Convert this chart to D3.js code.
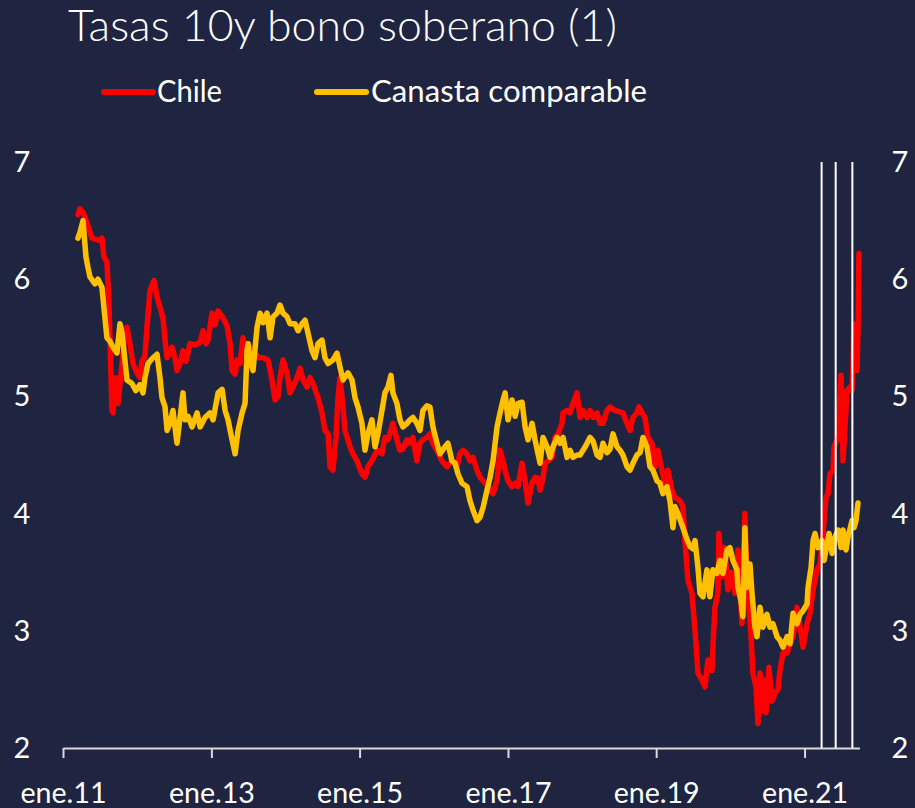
<!DOCTYPE html>
<html>
<head>
<meta charset="utf-8">
<script src="https://cdn.jsdelivr.net/npm/d3@7"></script>
<style>
  html, body { margin: 0; padding: 0; background: #1f2540; }
  svg { display: block; }
  text { font-family: Lato, "Open Sans", "Noto Sans", sans-serif; fill: #ffffff; }
</style>
</head>
<body>
<svg id="chart" width="915" height="808"></svg>
<script>
// 10-year sovereign bond yields (%), dates as decimal years
const chileDates = [
  2011.202, 2011.229, 2011.270, 2011.324, 2011.391, 2011.499, 2011.526, 2011.553, 2011.593, 2011.620,
  2011.634, 2011.647, 2011.661, 2011.674, 2011.715, 2011.742, 2011.769, 2011.823, 2011.863, 2011.904,
  2011.944, 2011.998, 2012.038, 2012.065, 2012.106, 2012.133, 2012.173, 2012.227, 2012.268, 2012.308,
  2012.349, 2012.376, 2012.403, 2012.470, 2012.510, 2012.537, 2012.578, 2012.618, 2012.659, 2012.713,
  2012.780, 2012.848, 2012.888, 2012.929, 2012.955, 2013.009, 2013.050, 2013.090, 2013.158, 2013.212,
  2013.252, 2013.279, 2013.320, 2013.347, 2013.387, 2013.427, 2013.454, 2013.495, 2013.535, 2013.589,
  2013.643, 2013.697, 2013.765, 2013.819, 2013.859, 2013.900, 2013.926, 2013.967, 2014.021, 2014.061,
  2014.102, 2014.156, 2014.196, 2014.237, 2014.291, 2014.331, 2014.372, 2014.439, 2014.493, 2014.533,
  2014.574, 2014.601, 2014.641, 2014.682, 2014.709, 2014.736, 2014.776, 2014.803, 2014.871, 2014.911,
  2014.965, 2015.032, 2015.073, 2015.113, 2015.167, 2015.235, 2015.302, 2015.342, 2015.383, 2015.450,
  2015.504, 2015.545, 2015.585, 2015.639, 2015.680, 2015.720, 2015.774, 2015.815, 2015.855, 2015.909,
  2015.949, 2015.990, 2016.044, 2016.111, 2016.179, 2016.246, 2016.313, 2016.354, 2016.394, 2016.448,
  2016.489, 2016.529, 2016.583, 2016.624, 2016.664, 2016.732, 2016.799, 2016.853, 2016.893, 2016.934,
  2016.961, 2017.001, 2017.055, 2017.096, 2017.136, 2017.190, 2017.231, 2017.271, 2017.325, 2017.365,
  2017.406, 2017.433, 2017.473, 2017.500, 2017.541, 2017.595, 2017.635, 2017.676, 2017.730, 2017.743,
  2017.797, 2017.837, 2017.878, 2017.932, 2017.972, 2018.013, 2018.067, 2018.107, 2018.148, 2018.202,
  2018.242, 2018.282, 2018.336, 2018.377, 2018.444, 2018.498, 2018.552, 2018.606, 2018.647, 2018.687,
  2018.741, 2018.768, 2018.808, 2018.849, 2018.889, 2018.943, 2018.984, 2019.024, 2019.078, 2019.119,
  2019.159, 2019.213, 2019.253, 2019.321, 2019.361, 2019.388, 2019.429, 2019.483, 2019.524, 2019.564,
  2019.618, 2019.658, 2019.699, 2019.753, 2019.766, 2019.793, 2019.833, 2019.847, 2019.887, 2019.928,
  2019.968, 2020.022, 2020.063, 2020.103, 2020.130, 2020.157, 2020.170, 2020.197, 2020.224, 2020.238,
  2020.278, 2020.305, 2020.346, 2020.373, 2020.400, 2020.427, 2020.454, 2020.481, 2020.521, 2020.562,
  2020.602, 2020.642, 2020.669, 2020.710, 2020.764, 2020.804, 2020.845, 2020.899, 2020.939, 2020.980,
  2021.034, 2021.074, 2021.115, 2021.168, 2021.209, 2021.249, 2021.290, 2021.317, 2021.344, 2021.384,
  2021.398, 2021.438, 2021.465, 2021.492, 2021.506, 2021.519, 2021.546, 2021.573, 2021.613, 2021.640,
  2021.654, 2021.667, 2021.694, 2021.708, 2021.721, 2021.735
];
const chileRates = [
  6.55, 6.60, 6.57, 6.48, 6.35, 6.33, 6.35, 6.19, 6.15, 5.80,
  5.50, 5.20, 4.88, 4.86, 5.16, 4.94, 5.10, 5.45, 5.59, 5.45,
  5.28, 5.20, 5.16, 5.30, 5.34, 5.59, 5.90, 5.99, 5.85, 5.76,
  5.67, 5.48, 5.33, 5.42, 5.33, 5.22, 5.28, 5.39, 5.30, 5.45,
  5.44, 5.46, 5.56, 5.45, 5.48, 5.71, 5.61, 5.73, 5.67, 5.60,
  5.45, 5.22, 5.19, 5.31, 5.28, 5.50, 5.38, 5.45, 5.40, 5.37,
  5.33, 5.33, 5.31, 5.14, 4.97, 5.00, 5.16, 5.31, 5.20, 5.03,
  5.08, 5.16, 5.24, 5.14, 5.08, 5.16, 5.11, 4.99, 4.86, 4.71,
  4.68, 4.40, 4.37, 4.65, 4.99, 5.16, 4.91, 4.71, 4.57, 4.51,
  4.45, 4.34, 4.31, 4.40, 4.45, 4.54, 4.51, 4.65, 4.63, 4.77,
  4.63, 4.54, 4.55, 4.63, 4.60, 4.65, 4.45, 4.60, 4.63, 4.65,
  4.68, 4.60, 4.54, 4.45, 4.40, 4.45, 4.40, 4.51, 4.54, 4.51,
  4.45, 4.48, 4.37, 4.31, 4.28, 4.23, 4.17, 4.28, 4.54, 4.45,
  4.37, 4.28, 4.23, 4.26, 4.23, 4.43, 4.28, 4.09, 4.26, 4.31,
  4.30, 4.20, 4.30, 4.43, 4.45, 4.48, 4.65, 4.68, 4.77, 4.86,
  4.88, 4.86, 4.94, 5.03, 4.82, 4.88, 4.82, 4.88, 4.82, 4.86,
  4.77, 4.77, 4.88, 4.91, 4.88, 4.87, 4.86, 4.77, 4.71, 4.82,
  4.86, 4.91, 4.86, 4.82, 4.65, 4.60, 4.40, 4.54, 4.37, 4.26,
  4.37, 4.20, 4.14, 4.11, 4.06, 3.77, 3.43, 3.32, 3.01, 2.64,
  2.58, 2.52, 2.75, 2.66, 2.86, 3.20, 3.32, 3.83, 3.46, 3.71,
  3.35, 3.50, 3.32, 3.69, 3.35, 3.06, 3.43, 4.00, 3.43, 3.29,
  2.98, 2.64, 2.52, 2.21, 2.64, 2.32, 2.58, 2.30, 2.69, 2.40,
  2.47, 2.50, 2.66, 2.81, 2.81, 2.89, 2.95, 3.20, 3.03, 2.86,
  3.06, 3.15, 3.35, 3.52, 3.57, 3.83, 4.14, 4.17, 4.34, 4.37,
  4.57, 4.63, 4.86, 5.18, 4.91, 4.45, 4.74, 5.05, 5.08, 5.05,
  5.28, 5.62, 5.50, 5.22, 5.57, 6.22
];

const canastaDates = [
  2011.202, 2011.229, 2011.270, 2011.310, 2011.337, 2011.364, 2011.432, 2011.472, 2011.526, 2011.566,
  2011.593, 2011.634, 2011.674, 2011.728, 2011.769, 2011.796, 2011.836, 2011.863, 2011.931, 2011.984,
  2012.038, 2012.079, 2012.106, 2012.146, 2012.214, 2012.268, 2012.308, 2012.335, 2012.376, 2012.403,
  2012.443, 2012.483, 2012.537, 2012.578, 2012.618, 2012.645, 2012.686, 2012.740, 2012.807, 2012.848,
  2012.915, 2012.982, 2013.023, 2013.090, 2013.144, 2013.185, 2013.225, 2013.279, 2013.320, 2013.360,
  2013.414, 2013.454, 2013.481, 2013.495, 2013.522, 2013.562, 2013.616, 2013.657, 2013.697, 2013.751,
  2013.792, 2013.832, 2013.886, 2013.926, 2013.967, 2014.021, 2014.061, 2014.129, 2014.169, 2014.223,
  2014.264, 2014.304, 2014.358, 2014.398, 2014.439, 2014.493, 2014.533, 2014.574, 2014.641, 2014.695,
  2014.736, 2014.776, 2014.844, 2014.898, 2014.938, 2014.978, 2015.032, 2015.073, 2015.113, 2015.167,
  2015.208, 2015.248, 2015.302, 2015.342, 2015.383, 2015.423, 2015.450, 2015.504, 2015.545, 2015.585,
  2015.639, 2015.680, 2015.720, 2015.774, 2015.815, 2015.855, 2015.909, 2015.949, 2015.990, 2016.044,
  2016.084, 2016.152, 2016.192, 2016.246, 2016.287, 2016.327, 2016.381, 2016.448, 2016.489, 2016.529,
  2016.583, 2016.624, 2016.664, 2016.718, 2016.759, 2016.799, 2016.853, 2016.893, 2016.934, 2016.961,
  2017.001, 2017.055, 2017.096, 2017.136, 2017.190, 2017.231, 2017.271, 2017.325, 2017.365, 2017.406,
  2017.433, 2017.473, 2017.527, 2017.568, 2017.608, 2017.662, 2017.703, 2017.743, 2017.797, 2017.837,
  2017.878, 2017.932, 2017.972, 2018.013, 2018.067, 2018.107, 2018.148, 2018.202, 2018.242, 2018.282,
  2018.336, 2018.377, 2018.417, 2018.471, 2018.512, 2018.552, 2018.606, 2018.647, 2018.687, 2018.741,
  2018.782, 2018.822, 2018.876, 2018.916, 2018.957, 2019.011, 2019.051, 2019.092, 2019.146, 2019.186,
  2019.227, 2019.253, 2019.294, 2019.361, 2019.415, 2019.456, 2019.496, 2019.524, 2019.564, 2019.591,
  2019.631, 2019.685, 2019.725, 2019.766, 2019.820, 2019.860, 2019.901, 2019.955, 2019.995, 2020.036,
  2020.090, 2020.103, 2020.143, 2020.170, 2020.197, 2020.224, 2020.265, 2020.292, 2020.332, 2020.359,
  2020.400, 2020.440, 2020.494, 2020.535, 2020.575, 2020.629, 2020.669, 2020.710, 2020.764, 2020.804,
  2020.845, 2020.899, 2020.939, 2020.980, 2021.034, 2021.047, 2021.088, 2021.115, 2021.141, 2021.182,
  2021.236, 2021.263, 2021.303, 2021.330, 2021.371, 2021.411, 2021.452, 2021.492, 2021.519, 2021.559,
  2021.586, 2021.640, 2021.667, 2021.694, 2021.721
];
const canastaRates = [
  6.35, 6.40, 6.50, 6.19, 6.10, 6.02, 5.96, 6.00, 5.93, 5.67,
  5.50, 5.47, 5.42, 5.37, 5.62, 5.54, 5.31, 5.14, 5.11, 5.05,
  5.10, 5.03, 5.16, 5.28, 5.33, 5.36, 5.16, 4.99, 4.91, 4.71,
  4.77, 4.88, 4.60, 4.82, 5.03, 4.80, 4.83, 4.74, 4.86, 4.74,
  4.82, 4.86, 4.80, 5.03, 5.06, 4.88, 4.80, 4.63, 4.51, 4.71,
  4.86, 4.94, 5.39, 5.45, 5.31, 5.22, 5.59, 5.71, 5.63, 5.71,
  5.50, 5.68, 5.71, 5.78, 5.71, 5.68, 5.62, 5.62, 5.56, 5.62,
  5.65, 5.54, 5.39, 5.33, 5.45, 5.48, 5.33, 5.28, 5.31, 5.37,
  5.25, 5.14, 5.20, 5.14, 4.99, 4.91, 4.77, 4.54, 4.68, 4.80,
  4.57, 4.68, 4.88, 5.03, 5.08, 5.18, 5.03, 4.94, 4.80, 4.74,
  4.77, 4.80, 4.82, 4.77, 4.71, 4.88, 4.92, 4.91, 4.74, 4.60,
  4.51, 4.57, 4.60, 4.45, 4.43, 4.34, 4.26, 4.23, 4.11, 4.03,
  3.94, 3.97, 4.05, 4.20, 4.31, 4.45, 4.74, 4.86, 4.97, 5.03,
  4.80, 4.97, 4.83, 4.94, 4.95, 4.74, 4.63, 4.77, 4.63, 4.51,
  4.43, 4.65, 4.57, 4.48, 4.57, 4.65, 4.60, 4.65, 4.48, 4.54,
  4.48, 4.50, 4.50, 4.54, 4.60, 4.65, 4.62, 4.50, 4.48, 4.60,
  4.52, 4.55, 4.68, 4.57, 4.54, 4.50, 4.40, 4.37, 4.43, 4.50,
  4.52, 4.65, 4.57, 4.40, 4.37, 4.28, 4.26, 4.17, 4.23, 4.11,
  3.88, 4.06, 4.00, 3.88, 3.78, 3.72, 3.70, 3.77, 3.54, 3.32,
  3.29, 3.52, 3.29, 3.52, 3.49, 3.60, 3.49, 3.69, 3.71, 3.60,
  3.52, 3.37, 3.26, 3.12, 3.88, 3.37, 3.57, 3.32, 3.03, 2.95,
  3.20, 3.03, 3.14, 3.03, 3.06, 2.95, 2.92, 2.86, 2.95, 2.89,
  3.15, 3.06, 3.14, 3.17, 3.23, 3.37, 3.54, 3.77, 3.83, 3.71,
  3.77, 3.60, 3.74, 3.83, 3.66, 3.80, 3.86, 3.71, 3.86, 3.69,
  3.80, 3.94, 3.88, 3.94, 4.09
];

// Reference dates marked with vertical lines
const eventDates = [2021.23, 2021.42, 2021.645];

const yTickValues = [2, 3, 4, 5, 6, 7];
const xTickYears = [2011, 2013, 2015, 2017, 2019, 2021];
const xAxisEnd = 2021.74;
const seriesNames = ["Chile", "Canasta comparable"];
const seriesColors = ["#ff0000", "#ffc000"];
const titleText = "Tasas 10y bono soberano (1)";

// decimal year -> Date
function toDate(dec) {
  const yr = Math.floor(dec);
  const start = new Date(yr, 0, 1).getTime();
  const end = new Date(yr + 1, 0, 1).getTime();
  return new Date(start + (dec - yr) * (end - start));
}

const svg = d3.select("#chart");
const W = 915, H = 808;
svg.append("rect").attr("width", W).attr("height", H).attr("fill", "#1f2540");

const plotLeft = 63, plotRight = 859.4, plotTop = 162, plotBottom = 748;

const x = d3.scaleTime()
  .domain([toDate(2011), toDate(xAxisEnd)])
  .range([plotLeft, plotRight]);
const y = d3.scaleLinear()
  .domain([2, 7])
  .range([plotBottom, plotTop]);

// Title
svg.append("text")
  .attr("x", 68).attr("y", 41)
  .attr("font-size", 43).attr("font-weight", 300)
  .attr("textLength", 549).attr("lengthAdjust", "spacingAndGlyphs")
  .text(titleText);

// Legend
const legendItems = [
  { name: seriesNames[0], color: seriesColors[0], lx: 104, tx: 157, tw: 65 },
  { name: seriesNames[1], color: seriesColors[1], lx: 317, tx: 371, tw: 276 }
];
legendItems.forEach(d => {
  svg.append("line")
    .attr("x1", d.lx).attr("x2", d.lx + 49)
    .attr("y1", 92).attr("y2", 92)
    .attr("stroke", d.color).attr("stroke-width", 6).attr("stroke-linecap", "round");
  svg.append("text")
    .attr("x", d.tx).attr("y", 102)
    .attr("font-size", 30)
    .attr("textLength", d.tw).attr("lengthAdjust", "spacingAndGlyphs")
    .text(d.name);
});

// Value labels on both sides
yTickValues.forEach(v => {
  [22, 900].forEach(cx => {
    svg.append("text")
      .attr("x", cx).attr("y", y(v) + 10)
      .attr("text-anchor", "middle")
      .attr("font-size", 29)
      .text(v);
  });
});

// Date axis
const xAxis = d3.axisBottom(x)
  .tickValues(xTickYears.map(toDate))
  .tickSize(10)
  .tickSizeOuter(0)
  .tickFormat(d => "ene." + d3.timeFormat("%y")(d));

const gx = svg.append("g")
  .attr("transform", `translate(0,${plotBottom})`)
  .call(xAxis);
gx.select(".domain").attr("stroke", "#d9d9d9").attr("stroke-width", 2);
gx.selectAll(".tick line").attr("stroke", "#d9d9d9").attr("stroke-width", 2);
gx.selectAll(".tick text")
  .attr("y", 55).attr("dy", null)
  .attr("fill", "#ffffff")
  .attr("font-size", 29)
  .attr("font-family", "Lato, 'Open Sans', sans-serif")
  .attr("textLength", 86).attr("lengthAdjust", "spacingAndGlyphs");

// Series lines
const line = d3.line()
  .x(d => x(toDate(d[0])))
  .y(d => y(d[1]))
  .curve(d3.curveLinear);

const series = [
  { dates: chileDates, values: chileRates, color: seriesColors[0] },
  { dates: canastaDates, values: canastaRates, color: seriesColors[1] }
];
series.forEach(s => {
  svg.append("path")
    .datum(s.dates.map((d, i) => [d, s.values[i]]))
    .attr("fill", "none")
    .attr("stroke", s.color)
    .attr("stroke-width", 5.5)
    .attr("stroke-linejoin", "round")
    .attr("stroke-linecap", "round")
    .attr("d", line);
});

// Event markers
eventDates.forEach(d => {
  svg.append("line")
    .attr("x1", x(toDate(d))).attr("x2", x(toDate(d)))
    .attr("y1", plotTop).attr("y2", plotBottom)
    .attr("stroke", "#ffffff").attr("stroke-width", 2);
});
</script>
</body>
</html>
